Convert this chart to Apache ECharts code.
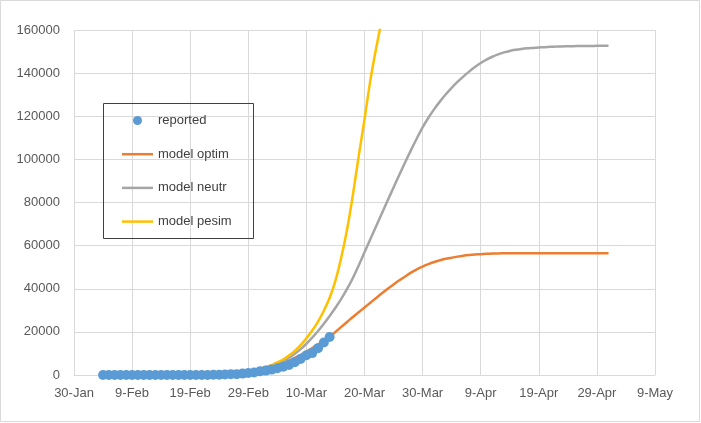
<!DOCTYPE html>
<html>
<head>
<meta charset="utf-8">
<script src="https://cdn.jsdelivr.net/npm/echarts@6/dist/echarts.min.js"></script>
<style>
html,body{margin:0;padding:0;background:#fff;}
#chart{width:701px;height:423px;}
</style>
</head>
<body>
<div id="chart"></div>
<script>
// x axis: day index counted from 30-Jan (2020)
const xTickLabels = ['30-Jan','9-Feb','19-Feb','29-Feb','10-Mar','20-Mar','30-Mar','9-Apr','19-Apr','29-Apr','9-May'];
const seriesNames = ['reported','model optim','model neutr','model pesim'];

const reportedStart = 5;   // 4-Feb
const reported = [2,2,2,3,3,3,3,3,3,3,3,3,3,3,3,3,3,3,
  20,80,150,230,320,400,650,890,1130,1690,2040,2500,3090,3860,4640,5880,7380,9170,10150,12460,15110,17660];

const modelStart = 25;     // 24-Feb
const optim = [460,600,780,1000,1250,1600,2000,2500,3100,3800,4600,5600,6700,8000,9400,10900,12500,14200,15900,17700,
  20000,22300,24600,26900,29100,31300,33500,35700,37900,40000,42000,43900,45700,47500,49000,50300,51400,52400,53200,53900,
  54400,54900,55300,55600,55850,56050,56200,56300,56380,56440,56480,56500,
  56500,56500,56500,56500,56500,56500,56500,56500,56500,56500,56500,56500,56500,56500,56500,56500];
const neutr = [540,670,840,1050,1310,1640,2050,2550,3200,4000,5000,6300,7900,9800,12000,14500,17300,20400,23800,27400,
  31200,35300,39900,45000,50800,56900,63000,69000,75000,81000,87000,92900,98700,104300,109700,114800,119300,123300,126900,130200,
  133200,135900,138400,140700,142800,144700,146300,147600,148700,149600,150300,150800,151200,151500,151700,151900,152050,152200,
  152300,152400,152450,152500,152550,152600,152620,152650,152680,152700];
const pesim = [680,840,1040,1280,1580,1950,2400,2950,3700,4600,5800,7200,9000,11200,13900,17000,20600,24800,29800,35800,
  43800,54500,67500,83500,101500,118500,136500,151500,165000,178000];

function toPairs(start, arr){ return arr.map((v,i)=>[start+i, v]); }

const FONT = '"Liberation Sans", Arial, sans-serif';
const TXT = '#595959';
const GRID = '#d9d9d9';
const LINE_ICON = 'path://M0,0H31V2.5H0Z';

const chart = echarts.init(document.getElementById('chart'));
chart.setOption({
  animation:false,
  backgroundColor:'#fff',
  grid:{left:74, right:46, top:30, bottom:48, containLabel:false},
  xAxis:{
    type:'value', min:0, max:100, interval:10,
    axisLine:{show:true, lineStyle:{color:GRID, width:1}},
    axisTick:{show:false},
    splitLine:{show:true, lineStyle:{color:GRID, width:1}},
    axisLabel:{margin:12, color:TXT, fontSize:13, fontFamily:FONT,
      formatter:v=>xTickLabels[Math.round(v/10)]}
  },
  yAxis:{
    type:'value', min:0, max:160000, interval:20000,
    axisLine:{show:false},
    axisTick:{show:false},
    splitLine:{show:true, lineStyle:{color:GRID, width:1}},
    axisLabel:{margin:14, color:TXT, fontSize:13, fontFamily:FONT, formatter:v=>String(v)}
  },
  legend:{
    orient:'vertical', left:122, top:114, padding:0,
    itemWidth:31, itemHeight:9, itemGap:20.7, symbolKeepAspect:true,
    textStyle:{fontSize:13, color:'#404040', fontFamily:FONT},
    data:[
      {name:seriesNames[0], icon:'circle'},
      {name:seriesNames[1], icon:LINE_ICON},
      {name:seriesNames[2], icon:LINE_ICON},
      {name:seriesNames[3], icon:LINE_ICON}
    ]
  },
  graphic:[
    {type:'rect', shape:{x:0.5,y:0.5,width:699,height:421}, style:{fill:null, stroke:GRID, lineWidth:1}, z:100, silent:true},
    {type:'rect', shape:{x:103.5,y:103.5,width:150,height:135}, style:{fill:null, stroke:'#404040', lineWidth:1}, z:100, silent:true}
  ],
  series:[
    {name:seriesNames[1], type:'line', data:toPairs(modelStart, optim), symbol:'none', smooth:0.3,
      lineStyle:{color:'#ED7D31', width:2.5}, itemStyle:{color:'#ED7D31'}, z:2},
    {name:seriesNames[2], type:'line', data:toPairs(modelStart, neutr), symbol:'none', smooth:0.3,
      lineStyle:{color:'#A5A5A5', width:2.5}, itemStyle:{color:'#A5A5A5'}, z:2},
    {name:seriesNames[3], type:'line', data:toPairs(modelStart, pesim), symbol:'none', smooth:0.3,
      lineStyle:{color:'#FFC000', width:2.5}, itemStyle:{color:'#FFC000'}, z:2},
    {name:seriesNames[0], type:'scatter', data:toPairs(reportedStart, reported), symbol:'circle', symbolSize:10,
      itemStyle:{color:'#5B9BD5', opacity:1}, z:5}
  ]
});
</script>
</body>
</html>
